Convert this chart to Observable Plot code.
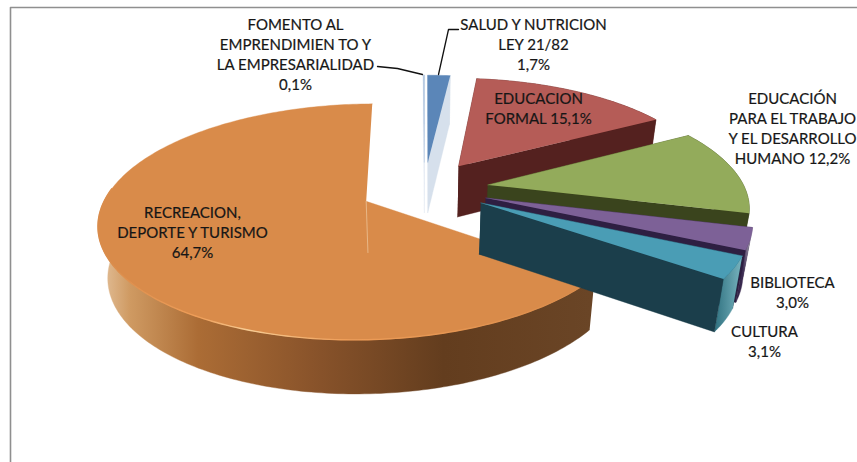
<!DOCTYPE html>
<html lang="es">
<head>
<meta charset="utf-8">
<script src="https://cdn.jsdelivr.net/npm/d3@7"></script>
<script src="https://cdn.jsdelivr.net/npm/@observablehq/plot@0.6"></script>
<style>
html,body{margin:0;padding:0;background:#fff;overflow:hidden}
svg{display:block;background:#fff}
</style>
</head>
<body>
<div id="chart"></div>
<script>
// ---- data (clockwise from the top) ----
const names = [
  "FOMENTO AL\nEMPRENDIMIEN TO Y\nLA EMPRESARIALIDAD\n",
  "SALUD Y NUTRICION\nLEY 21/82\n",
  "EDUCACION\nFORMAL ",
  "EDUCACIÓN\nPARA EL TRABAJO\nY EL DESARROLLO\nHUMANO ",
  "BIBLIOTECA\n",
  "CULTURA\n",
  "RECREACION,\nDEPORTE Y TURISMO\n"
];
const values = [0.1, 1.7, 15.1, 12.2, 3.0, 3.1, 64.7];
const topColors  = ["#a9c1dd", "#5b86b8", "#b55c57", "#93ab5b", "#7d6197", "#4a9db5", "#d98b4a"];
const faceColors = ["#dfe7f1", "#d6e0ec", "#54211f", "#3a441d", "#2e1f42", "#1b3e4b", "#6a4526"];
const rimColors  = ["#dfe7f1", "#d6e0ec", "#54211f", "#3a441d", "url(#rimPurple)", "url(#rimTeal)", "url(#rimOrange)"];
const labelCentres = [[295, 53], [533, 43], [538, 107], [792, 127], [792, 291], [764, 340], [192, 231]];

// ---- layout ----
const W = 857, H = 462;
const CX = 424, CY = 188, RX = 257, RY = 110;   // pixels of the pie centre and radii
const PERSP = 0.171, EXPLODE = 0.25, ROT = -0.3, LOWER_DISC = 0.97;
const rad = d => d * Math.PI / 180;
const fx = px => (px - CX) / RX, fy = py => (py - CY) / RY;

const project = (u, v) => { const s = 1 / (1 - PERSP * v); return {x: u * s, y: v * s, s}; };
const drop = p => ({x: p.x * LOWER_DISC, y: p.y + (38 + 13 * p.s) / RY, s: p.s});

// angles from the values
let acc = ROT;
const slices = values.map((val, i) => {
  const a0 = acc, a1 = acc + val * 3.6; acc = a1;
  const m = rad((a0 + a1) / 2);
  const ou = EXPLODE * Math.sin(m), ov = -EXPLODE * Math.cos(m);
  const onRim = a => project(ou + Math.sin(rad(a)), ov - Math.cos(rad(a)));
  const n = Math.max(2, Math.ceil(a1 - a0));
  const arc = d3.range(n + 1).map(k => onRim(a0 + (a1 - a0) * k / n));
  const apex = project(ou, ov);
  return {i, a0, a1, apex, arc};
});

const poly = (pts, color) =>
  Plot.line(pts, {x: "x", y: "y", fill: color, stroke: color, strokeWidth: 0.4, curve: "linear"});

const orange = slices[6];
const frontRim = orange.arc.filter(p => p.s > 1);

const sliceMarks = s => {
  const {apex, arc, i} = s, first = arc[0], last = arc[arc.length - 1];
  if (i === 6) {   // the big slice: only its front wall is seen
    return [
      poly([...frontRim, ...frontRim.map(drop).reverse()], rimColors[i]),
      poly([apex, ...arc], topColors[i]),
      Plot.line(frontRim, {x: "x", y: "y", stroke: "url(#edgeGlow)", strokeWidth: 1.4, curve: "linear"}),
      Plot.line([apex, drop(apex)], {x: "x", y: "y", stroke: "#eec9a0", strokeWidth: 1, strokeOpacity: 0.7, curve: "linear"})
    ];
  }
  return [
    poly([apex, first, drop(first), drop(apex)], faceColors[i]),
    poly([...arc, ...arc.map(drop).reverse()], rimColors[i]),
    poly([apex, last, drop(last), drop(apex)], faceColors[i]),
    poly([apex, ...arc], topColors[i])
  ];
};

// painting order: the big slice behind, the others from back to front
const order = [6, 0, 1, 2, 3, 4, 5];

const fmt = v => v.toFixed(1).replace(".", ",") + "%";
const labels = names.map((n, i) => ({
  text: n + fmt(values[i]),
  x: fx(labelCentres[i][0]),
  y: fy(labelCentres[i][1])
}));

const px = (x, y) => ({x: fx(x), y: fy(y)});
const frame = [px(857, 7), px(10, 7), px(10, 462)];
const leaders = [
  [px(377, 66), px(397, 68), px(422, 74)],
  [px(458, 29), px(448, 29), px(438, 74)]
];

const defs = () => {
  const d = d3.create("svg:defs");
  const grad = (id, x1, x2, stops) => {
    const g = d.append("linearGradient").attr("id", id).attr("gradientUnits", "userSpaceOnUse")
      .attr("x1", x1).attr("x2", x2).attr("y1", 0).attr("y2", 0);
    stops.forEach(([o, c]) => g.append("stop").attr("offset", o).attr("stop-color", c));
  };
  grad("rimOrange", 100, 590, [[0, "#e3c09a"], [0.06, "#cf9a62"], [0.2, "#ab6c35"], [0.45, "#87522a"], [0.7, "#633d1e"], [1, "#6a4526"]]);
  grad("rimTeal", 713, 740, [[0, "#2d6f7e"], [1, "#74b0bb"]]);
  grad("rimPurple", 733, 752, [[0, "#2e1f42"], [0.5, "#3c2c52"], [1, "#c9c4d2"]]);
  grad("edgeGlow", 100, 590, [[0, "#d98b4a"], [0.2, "#ee9d58"], [0.3, "#f7cc94"], [0.5, "#ee9d58"], [1, "#d98b4a"]]);
  return d.node();
};

const chart = Plot.plot({
  width: W, height: H,
  margin: 0,
  x: {domain: [fx(0), fx(W)], range: [0, W], axis: null},
  y: {domain: [fy(0), fy(H)], range: [0, H], axis: null},
  marks: [
    defs,
    Plot.line(frame, {x: "x", y: "y", stroke: "#8f8f8f", strokeWidth: 1.6, curve: "linear"}),
    ...order.flatMap(i => sliceMarks(slices[i])),
    ...leaders.map(l => Plot.line(l, {x: "x", y: "y", stroke: "#111", strokeWidth: 1.3, curve: "linear"})),
    Plot.text(labels, {
      x: "x", y: "y", text: "text", lineHeight: 1.333,
      fontFamily: "Lato", fontSize: 15, fill: "#161616", stroke: "#161616", strokeWidth: 0.2, textAnchor: "middle"
    })
  ]
});
document.getElementById("chart").appendChild(chart);
</script>
</body>
</html>
